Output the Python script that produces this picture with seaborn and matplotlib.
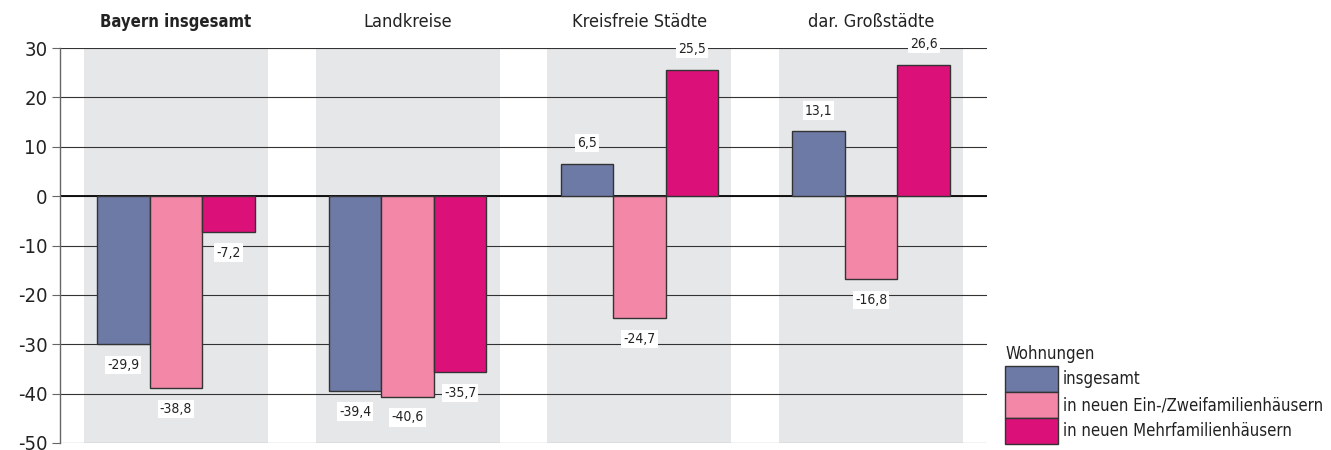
import matplotlib
matplotlib.use("Agg")
import matplotlib.pyplot as plt
from matplotlib import font_manager
from matplotlib.patches import Patch
import matplotlib.transforms as mtransforms
import seaborn as sns
import pandas as pd

# ---- data ----
groups = ["Bayern insgesamt", "Landkreise", "Kreisfreie Städte", "dar. Großstädte"]
series = ["insgesamt", "in neuen Ein-/Zweifamilienhäusern", "in neuen Mehrfamilienhäusern"]
vals_insgesamt = [-29.9, -39.4, 6.5, 13.1]
vals_ezfh = [-38.8, -40.6, -24.7, -16.8]
vals_mfh = [-7.2, -35.7, 25.5, 26.6]
legend_title = "Wohnungen"
yticks = [30, 20, 10, 0, -10, -20, -30, -40, -50]

colors = ["#6E7AA6", "#F287A8", "#DB1078"]

sns.set_theme(style="white")
plt.rcParams["font.family"] = ["DejaVu Sans"]
plt.rcParams["font.stretch"] = "condensed"
cond = any(f.name == "DejaVu Sans" and f.stretch == "condensed" for f in font_manager.fontManager.ttflist)
scale = 1.0 if cond else 0.88

rows = []
for s, vals in zip(series, [vals_insgesamt, vals_ezfh, vals_mfh]):
    for g, v in zip(groups, vals):
        rows.append({"Gruppe": g, "Serie": s, "Wert": v})
df = pd.DataFrame(rows)

fig = plt.figure(figsize=(13.31, 4.5), dpi=100)
ax = fig.add_axes([60 / 1331, 1 - 443 / 450, 927 / 1331, 395 / 450])

for i in range(len(groups)):
    ax.axvspan(i - 0.397, i + 0.397, color="#E6E7E9", zorder=0.1, lw=0)

sns.barplot(data=df, x="Gruppe", y="Wert", hue="Serie", order=groups, hue_order=series,
            palette=colors, width=0.68, gap=0, edgecolor="#333333", linewidth=1.0,
            saturation=1, legend=False, ax=ax, zorder=2)

ax.set_xlim(-0.5, len(groups) - 0.5)
ax.set_ylim(-50, 30)
ax.set_yticks(yticks)
ax.set_yticklabels([str(t) for t in yticks], fontsize=14.5 * scale, color="#222222")
ax.set_xticks([])
ax.set_xlabel("")
ax.set_ylabel("")

ax.set_axisbelow(True)
ax.yaxis.grid(True, color="#333333", lw=0.8)
ax.axhline(0, color="#111111", lw=1.4, zorder=0.6)
for sp in ["top", "right", "bottom"]:
    ax.spines[sp].set_visible(False)
ax.spines["left"].set_color("#666666")
ax.spines["left"].set_linewidth(1.0)
ax.tick_params(axis="y", left=True, length=6, width=0.8, color="#666666", pad=3)

fmt = lambda v: f"{v:.1f}".replace(".", ",")
for cont in ax.containers:
    ax.bar_label(cont, labels=[fmt(b.get_height()) for b in cont], padding=10, fontsize=10 * scale,
                 color="#222222", bbox=dict(facecolor="white", edgecolor="none", pad=1.5),
                 zorder=3)

trans = mtransforms.blended_transform_factory(ax.transData, fig.transFigure)
for i, g in enumerate(groups):
    ax.text(i, 1 - 22 / 450, g, transform=trans, ha="center", va="center",
            fontsize=(12 if i == 0 else 13) * scale,
            fontweight="bold" if i == 0 else "normal", color="#222222")

handles = [Patch(facecolor=c, edgecolor="#333333", lw=1.0) for c in colors]
fs = 12 * scale
leg = fig.legend(handles, series, title=legend_title, loc="upper left",
                 bbox_to_anchor=(1005 / 1331, 1 - 345 / 450), frameon=False,
                 fontsize=fs, title_fontsize=fs, handlelength=53 / (fs * 100 / 72),
                 handleheight=1.25 * 27 / (fs * 100 / 72),
                 labelspacing=0, handletextpad=0.3, borderpad=0, borderaxespad=0,
                 alignment="left")
leg._legend_box.sep = 2
for t in leg.get_texts():
    t.set_color("#222222")
leg.get_title().set_color("#222222")

fig.savefig("out.png", dpi=100)
